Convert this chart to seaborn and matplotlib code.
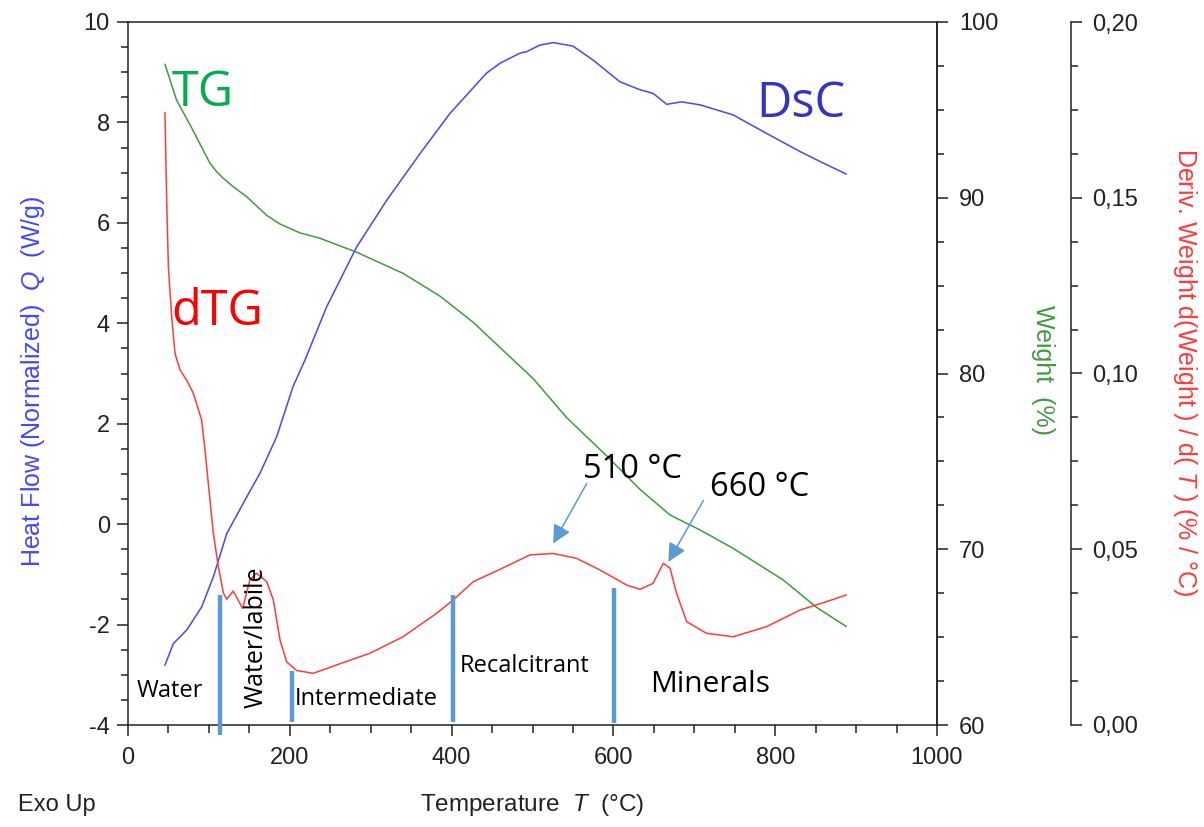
import numpy as np
import pandas as pd
import matplotlib
matplotlib.use("Agg")
import matplotlib.pyplot as plt
from matplotlib.ticker import MultipleLocator, FuncFormatter
import seaborn as sns

# ── data ──────────────────────────────────────────────────
dsc_temp = [45.7, 56, 72.5, 91, 105.5, 122, 146.7, 163, 183.8, 204, 218.8,
            245.6, 282.6, 319.8, 361, 398, 443, 460, 484.5, 493, 509, 525.7,
            550, 575, 608, 633, 649, 666, 684, 707, 748, 789.5, 830.7, 859.5, 888]
dsc_heat = [-2.81, -2.38, -2.11, -1.65, -1.05, -0.19, 0.54, 1.01, 1.74, 2.74, 3.27,
            4.33, 5.52, 6.45, 7.38, 8.18, 8.98, 9.18, 9.38, 9.41, 9.54, 9.59,
            9.52, 9.24, 8.81, 8.65, 8.58, 8.36, 8.41, 8.35, 8.15, 7.78, 7.42, 7.19, 6.97]

tg_temp = [45.7, 60, 78, 93, 101.4, 109.6, 118, 130, 146.7, 171.4, 188, 212.6, 237,
           282.6, 340, 385.7, 427, 464, 501, 542, 592, 633, 670, 707, 748, 810, 851, 888]
tg_weight = [97.6, 95.56, 94.04, 92.7, 91.96, 91.48, 91.1, 90.63, 90.06, 89.0, 88.5,
             88.0, 87.7, 86.9, 85.7, 84.4, 82.9, 81.3, 79.7, 77.5, 75.3, 73.4, 71.95,
             71.1, 70.05, 68.25, 66.7, 65.6]

dtg_temp = [45.7, 47.8, 49.9, 54, 58.1, 64.3, 72.5, 80.7, 91, 95.2, 99.3, 105.5,
            111.7, 118, 122, 130, 141.7, 150.7, 159, 171.4, 179.6, 187.9, 196, 208.5,
            229, 258, 299, 340, 381.6, 402, 427, 460, 497, 525.7, 554.5, 583.4, 616.4,
            633, 649, 661.7, 670, 678, 690.6, 715, 748, 789.5, 830.7, 863.6, 888]
dtg_deriv = [0.1743, 0.1494, 0.1304, 0.1162, 0.1057, 0.101, 0.0981, 0.0944, 0.0868,
             0.0782, 0.0687, 0.0545, 0.045, 0.0375, 0.0358, 0.0381, 0.0332, 0.0413,
             0.0432, 0.0408, 0.0356, 0.0242, 0.018, 0.0155, 0.0147, 0.0171, 0.0204,
             0.0251, 0.0318, 0.0356, 0.0408, 0.0443, 0.0484, 0.0488, 0.0474, 0.0441,
             0.0398, 0.0386, 0.0403, 0.046, 0.0446, 0.0375, 0.0294, 0.0261, 0.0251,
             0.028, 0.0327, 0.0351, 0.037]

# region boundaries (°C) and the heat-flow span of each marker bar
bound_temp = [113.7, 203, 402, 601]
bound_top = [-1.41, -2.93, -1.41, -1.27]
bound_bottom = [-4.2, -3.94, -3.94, -3.96]

peak_labels = ["510 °C", "660 °C"]
peak_temp = [525.5, 667.9]
peak_heat = [-0.385, -0.75]

dsc = pd.DataFrame({"T": dsc_temp, "Q": dsc_heat})
tg = pd.DataFrame({"T": tg_temp, "W": tg_weight})
dtg = pd.DataFrame({"T": dtg_temp, "D": dtg_deriv})

# ── style ────────────────────────────────────────────────
sns.set_style("ticks")
plt.rcParams.update({
    "font.family": ["Liberation Sans", "DejaVu Sans"],
    "mathtext.fontset": "custom",
    "mathtext.it": "Liberation Sans:italic",
    "axes.unicode_minus": False,
    "font.size": 17,
})
BLUE = "#4646FF"
GREEN = "#3F9B3F"
RED = "#FF3B3B"
BAR = "#5B9BD5"
AXC = "#222222"
ANNOT = "Open Sans"

fig = plt.figure(figsize=(12.04, 8.27), dpi=100)
ax = fig.add_axes([128 / 1204, 1 - 725 / 827, 809 / 1204, 703 / 827])
ax_w = ax.twinx()
ax_d = ax.twinx()
ax_d.spines["right"].set_position(("axes", 1.1656))

sns.lineplot(data=dsc, x="T", y="Q", ax=ax, color=BLUE, lw=1.1, estimator=None)
sns.lineplot(data=tg, x="T", y="W", ax=ax_w, color=GREEN, lw=1.1, estimator=None)
sns.lineplot(data=dtg, x="T", y="D", ax=ax_d, color=RED, lw=1.1, estimator=None)

ax.set_xlim(0, 1000)
ax.set_ylim(-4, 10)
ax_w.set_ylim(60, 100)
ax_d.set_ylim(0, 0.2)

# ticks
ax.xaxis.set_major_locator(MultipleLocator(200))
ax.xaxis.set_minor_locator(MultipleLocator(50))
ax.yaxis.set_major_locator(MultipleLocator(2))
ax.yaxis.set_minor_locator(MultipleLocator(0.5))
ax_w.yaxis.set_major_locator(MultipleLocator(10))
ax_w.yaxis.set_minor_locator(MultipleLocator(2.5))
ax_d.yaxis.set_major_locator(MultipleLocator(0.05))
ax_d.yaxis.set_minor_locator(MultipleLocator(0.0125))
ax_d.yaxis.set_major_formatter(FuncFormatter(lambda v, p: f"{v:.2f}".replace(".", ",")))

for a in (ax, ax_w, ax_d):
    a.tick_params(which="major", length=8, width=1.1, color=AXC, labelcolor=AXC,
                  labelsize=17)
    a.tick_params(which="minor", length=5, width=1.1, color=AXC)
    for s in a.spines.values():
        s.set_color(AXC)
        s.set_linewidth(1.1)
ax.tick_params(axis="y", which="both", pad=5)
ax.tick_params(axis="x", which="major", pad=8)
ax.tick_params(axis="x", which="minor", length=6)
ax_w.tick_params(axis="y", which="major", pad=8)
ax_d.tick_params(axis="y", which="major", pad=7)
for s in ("top", "right"):
    ax.spines[s].set_visible(True)
for s in ("top", "left", "bottom"):
    ax_w.spines[s].set_visible(False)
    ax_d.spines[s].set_visible(False)
ax_w.spines["right"].set_visible(True)
ax_d.spines["right"].set_visible(True)

# axis labels
ax.set_xlabel("Temperature  $T$  (°C)", fontsize=17.5, color=AXC)
ax.xaxis.set_label_coords(0.5, -0.095)
ax.set_ylabel("Heat Flow (Normalized)  $Q$  (W/g)", fontsize=18, color=BLUE)
ax.yaxis.set_label_coords(-0.100, 0.489)
ax_w.set_ylabel("Weight  (%)", fontsize=18, color=GREEN, rotation=270,
                va="center", ha="center")
ax_w.yaxis.set_label_coords(1.131, 0.505)
ax_d.set_ylabel("Deriv. Weight d(Weight ) / d( $T$ ) (% / °C)", fontsize=18,
                color=RED, rotation=270, va="center", ha="center")
ax_d.yaxis.set_label_coords(1.3066, 0.502)
fig.text(18 / 1204, 1 - 805 / 827, "Exo Up", fontsize=17, color=AXC, va="center")

# region marker bars, drawn above the curves
ax_d.vlines(bound_temp, bound_bottom, bound_top, colors=BAR, lw=3.2,
            transform=ax.transData, clip_on=False, zorder=5)

# curve names
tr = ax.transData
ax_d.text(53.5, 8.33, "TG", transform=tr, fontsize=35, color="#00B050",
          family=ANNOT, va="baseline", zorder=6)
ax_d.text(53.5, 3.96, "dTG", transform=tr, fontsize=35, color="#FF0000",
          family=ANNOT, va="baseline", zorder=6)
ax_d.text(777, 8.11, "DsC", transform=tr, fontsize=35, color="#3333CC",
          family=ANNOT, va="baseline", zorder=6)

# region names
ax_d.text(11, -3.45, "Water", transform=tr, fontsize=17, family=ANNOT,
          color="black", va="baseline", zorder=6)
ax_d.text(158, -3.67, "Water/labile", transform=tr, fontsize=18, family=ANNOT,
          color="black", rotation=90, ha="center", va="bottom", zorder=6)
ax_d.text(206.4, -3.61, "Intermediate", transform=tr, fontsize=17, family=ANNOT,
          color="black", va="baseline", zorder=6)
ax_d.text(410, -2.95, "Recalcitrant", transform=tr, fontsize=17, family=ANNOT,
          color="black", va="baseline", zorder=6)
ax_d.text(645, -3.35, "Minerals", transform=tr, fontsize=21.5, family=ANNOT,
          color="black", va="baseline", zorder=6)

# peak annotations
label_pos = [(563, 0.92), (720, 0.56)]
tail_pos = [(567, 0.81), (711.2, 0.47)]
for lab, t, q, (lx, ly), (sx, sy) in zip(peak_labels, peak_temp, peak_heat,
                                         label_pos, tail_pos):
    ax_d.annotate("", xy=(t, q), xytext=(sx, sy), xycoords=tr, textcoords=tr,
                  arrowprops=dict(arrowstyle="-|>,head_length=0.7,head_width=0.35",
                                  color=BAR, lw=1.1, mutation_scale=16,
                                  shrinkA=0, shrinkB=0), zorder=6)
    ax_d.text(lx, ly, lab, transform=tr, fontsize=23.5, family=ANNOT,
              color="black", va="baseline", zorder=6)

fig.savefig("out.png", dpi=100)
